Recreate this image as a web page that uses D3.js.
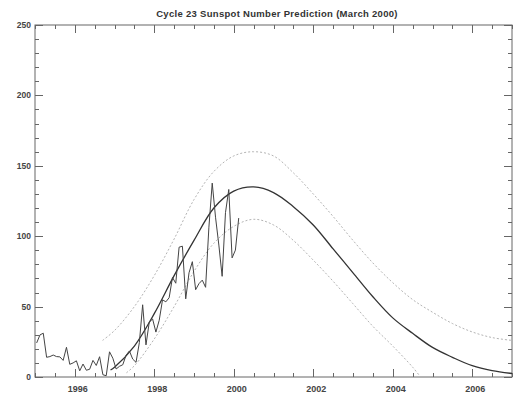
<!DOCTYPE html>
<html>
<head>
<meta charset="utf-8">
<script src="https://cdn.jsdelivr.net/npm/d3@7"></script>
<style>
  body { margin: 0; background: #fff; }
  text { font-family: "Liberation Sans", Arial, sans-serif; font-weight: bold; }
</style>
</head>
<body>
<div id="chart"></div>
<script>
// monthly observed sunspot numbers, Jan 1995 .. Feb 2000
var obsStart = 1995;
var observed = [
  24.2, 29.9, 31.1, 14.0, 14.5, 15.6, 14.5, 14.3, 11.8, 21.1, 9.0, 10.0,
  11.5, 4.4, 9.2, 4.8, 5.5, 11.8, 8.2, 14.4, 1.6, 0.9, 17.9, 13.3,
  5.7, 7.6, 8.7, 15.5, 18.5, 12.7, 10.4, 24.4, 51.3, 22.8, 39.0, 41.2,
  31.9, 40.3, 54.8, 53.4, 56.3, 70.7, 66.6, 92.2, 92.9, 55.5, 74.0, 81.9,
  62.0, 66.3, 68.8, 63.7, 106.4, 137.7, 113.5, 93.7, 71.5, 116.7, 133.2, 84.6,
  90.1, 112.9
];

// predicted curve (solid)
var predYears = [1996.9, 1997.0, 1997.5, 1998.0, 1998.5, 1999.0, 1999.5, 2000.0, 2000.5, 2001.0,
                 2001.5, 2002.0, 2002.5, 2003.0, 2003.5, 2004.0, 2004.5, 2005.0, 2005.5, 2006.0, 2006.5, 2007.0];
var predMean  = [5, 7, 22, 45, 72, 97, 120, 132, 135, 131,
                 121, 108, 91, 74, 57, 42, 31, 21, 14, 8, 4.5, 2.5];

// upper bound (dotted)
var upperYears = [1996.7, 1997.0, 1997.5, 1998.0, 1998.5, 1999.0, 1999.5, 2000.0, 2000.5, 2001.0,
                  2001.5, 2002.0, 2002.5, 2003.0, 2003.5, 2004.0, 2004.5, 2005.0, 2005.5, 2006.0, 2006.5, 2007.0];
var upperVals  = [26, 33, 50, 72, 98, 126, 146, 157, 160, 157,
                  145, 130, 114, 97, 81, 67, 55, 46, 38, 32, 28, 26];

// lower bound (dotted)
var lowerYears = [1997.3, 1997.5, 1998.0, 1998.5, 1999.0, 1999.5, 2000.0, 2000.5, 2001.0,
                  2001.5, 2002.0, 2002.5, 2003.0, 2003.5, 2004.0, 2004.5, 2004.7];
var lowerVals  = [3, 8, 27, 50, 75, 95, 107, 112, 108,
                  97, 83, 68, 52, 36, 22, 7, 0];

var yMajor = [0, 50, 100, 150, 200, 250];
var xMajor = [1996, 1998, 2000, 2002, 2004, 2006];

var W = 514, H = 396;
var margin = { left: 35, right: 512, top: 25, bottom: 377 };

var svg = d3.select("#chart").append("svg")
    .attr("width", W)
    .attr("height", H);

svg.append("rect").attr("width", W).attr("height", H).attr("fill", "#fff");

var x = d3.scaleLinear().domain([1995, 2007]).range([margin.left, margin.right]);
var y = d3.scaleLinear().domain([0, 250]).range([margin.bottom, margin.top]);

var axisColor = "#666";

// title
svg.append("text")
    .attr("x", 277)
    .attr("y", 17)
    .attr("text-anchor", "middle")
    .attr("font-size", 9.5)
    .attr("letter-spacing", 0.3)
    .attr("fill", "#333")
    .text("Cycle 23 Sunspot Number Prediction (March 2000)");

// frame
svg.append("rect")
    .attr("x", margin.left).attr("y", margin.top)
    .attr("width", margin.right - margin.left).attr("height", margin.bottom - margin.top)
    .attr("fill", "none")
    .attr("stroke", axisColor)
    .attr("stroke-width", 1);

// ticks, all pointing inward (IDL style)
var xMinor = d3.range(1995, 2007.01, 0.5);
var yMinor = d3.range(0, 250.1, 10);

var tickG = svg.append("g").attr("stroke", axisColor).attr("stroke-width", 1);

xMinor.forEach(function(v) {
  var len = xMajor.indexOf(v) >= 0 ? 8 : 4;
  var px = Math.round(x(v)) + 0.5;
  tickG.append("line").attr("x1", px).attr("x2", px).attr("y1", margin.bottom).attr("y2", margin.bottom - len);
  tickG.append("line").attr("x1", px).attr("x2", px).attr("y1", margin.top).attr("y2", margin.top + len);
});
yMinor.forEach(function(v) {
  var len = yMajor.indexOf(v) >= 0 ? 8 : 4;
  var py = Math.round(y(v)) + 0.5;
  tickG.append("line").attr("x1", margin.left).attr("x2", margin.left + len).attr("y1", py).attr("y2", py);
  tickG.append("line").attr("x1", margin.right).attr("x2", margin.right - len).attr("y1", py).attr("y2", py);
});

// tick labels
svg.append("g").selectAll("text")
    .data(yMajor)
    .enter().append("text")
    .attr("x", margin.left - 4)
    .attr("y", function(d) { return y(d) + 3; })
    .attr("text-anchor", "end")
    .attr("font-size", 8.5)
    .attr("fill", "#444")
    .text(function(d) { return d; });

svg.append("g").selectAll("text")
    .data(xMajor)
    .enter().append("text")
    .attr("x", function(d) { return x(d) + 3; })
    .attr("y", 392)
    .attr("text-anchor", "middle")
    .attr("font-size", 9)
    .attr("fill", "#444")
    .text(function(d) { return d; });

// bounds
var smooth = d3.line()
    .x(function(d) { return x(d[0]); })
    .y(function(d) { return y(d[1]); })
    .curve(d3.curveCatmullRom);

svg.append("path")
    .datum(d3.zip(upperYears, upperVals))
    .attr("d", smooth)
    .attr("fill", "none")
    .attr("stroke", "#b4b4b4")
    .attr("stroke-width", 1)
    .attr("stroke-dasharray", "2,2");

svg.append("path")
    .datum(d3.zip(lowerYears, lowerVals))
    .attr("d", smooth)
    .attr("fill", "none")
    .attr("stroke", "#b4b4b4")
    .attr("stroke-width", 1)
    .attr("stroke-dasharray", "2,2");

// predicted
svg.append("path")
    .datum(d3.zip(predYears, predMean))
    .attr("d", smooth)
    .attr("fill", "none")
    .attr("stroke", "#333")
    .attr("stroke-width", 1.3);

// observed
var obsLine = d3.line()
    .x(function(d, i) { return x(obsStart + (i + 0.5) / 12); })
    .y(function(d) { return y(d); });

svg.append("path")
    .datum(observed)
    .attr("d", obsLine)
    .attr("fill", "none")
    .attr("stroke", "#444")
    .attr("stroke-width", 1);
</script>
</body>
</html>
